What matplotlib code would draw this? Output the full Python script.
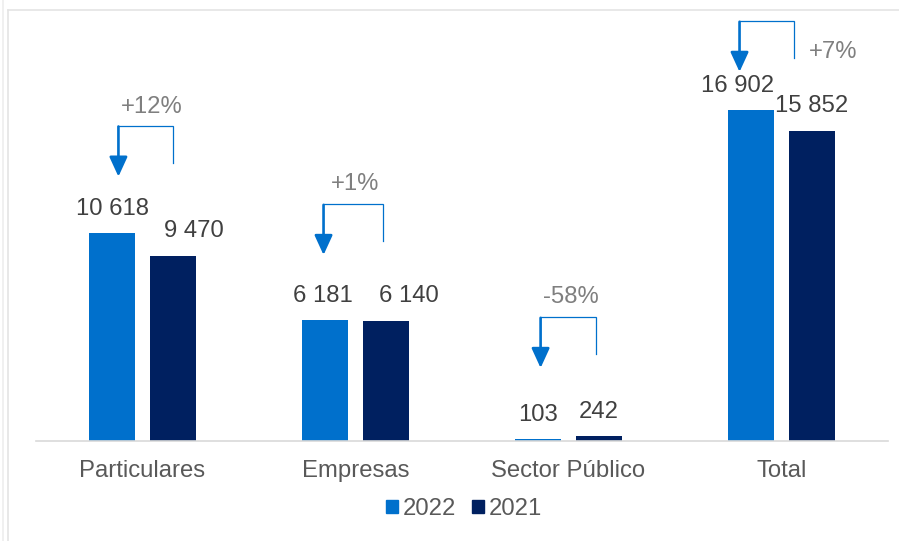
import numpy as np
import matplotlib
matplotlib.use('Agg')
import matplotlib.pyplot as plt
from matplotlib.lines import Line2D
from matplotlib.patches import Patch

plt.rcParams['font.family'] = ['Liberation Sans', 'DejaVu Sans']

# data
categories = ['Particulares', 'Empresas', 'Sector Público', 'Total']
v2022 = [10618, 6181, 103, 16902]
v2021 = [9470, 6140, 242, 15852]
pct_labels = ['+12%', '+1%', '-58%', '+7%']
series_names = ['2022', '2021']

# horizontal nudges of the value labels (points), as placed in the original
lab_dx_2022 = [0, -1.5, 0, -10]
lab_dx_2021 = [15, 16.5, 0, 0]

# bracket annotations (data units): top level of bracket, arrow / leg x offsets
bracket_top = [16100, 12100, 6330, 21450]
arrow_dx = [-0.113, -0.150, -0.131, -0.197]
leg_dx = [0.141, 0.127, 0.127, 0.061]
pct_x = [0.042, 0.0, 0.009, 0.244]
pct_y = [17050, 13120, 7350, 19860]

c2022 = '#0070CC'
c2021 = '#002060'
blue_line = '#0070CC'
fs = 17.2

fig = plt.figure(figsize=(8.99, 5.41), dpi=100)
ax = fig.add_axes([36 / 899, 100 / 541, 852 / 899, 430.8 / 541])

x = np.arange(len(categories))
w = 0.22
off = 0.143
ax.bar(x - off, v2022, w, color=c2022, label='2022')
ax.bar(x + off, v2021, w, color=c2021, label='2021')

for i in range(len(categories)):
    ax.annotate(f'{v2022[i]:,}'.replace(',', ' '), (x[i] - off, v2022[i]),
                xytext=(lab_dx_2022[i], 17.5), textcoords='offset points',
                ha='center', va='center', fontsize=fs, color='#404040')
    ax.annotate(f'{v2021[i]:,}'.replace(',', ' '), (x[i] + off, v2021[i]),
                xytext=(lab_dx_2021[i], 17.5), textcoords='offset points',
                ha='center', va='center', fontsize=fs, color='#404040')

    # bracket with downward arrow
    ax_x = x[i] + arrow_dx[i]
    lg_x = x[i] + leg_dx[i]
    top = bracket_top[i]
    ax.plot([ax_x, lg_x, lg_x], [top, top, top - 1890], color=blue_line, lw=0.9,
            solid_joinstyle='miter')
    ax.annotate('', xy=(ax_x, top - 2600), xytext=(ax_x, top - 40),
                arrowprops=dict(arrowstyle='-|>,head_width=0.55,head_length=1.2',
                                color=blue_line, lw=1.9, shrinkA=0, shrinkB=0,
                                mutation_scale=10))
    ax.text(x[i] + pct_x[i], pct_y[i], pct_labels[i], ha='center', va='center',
            fontsize=fs, color='#7F7F7F')

ax.set_xlim(-0.5, 3.5)
ax.set_ylim(0, 22000)
ax.set_xticks(x)
ax.set_xticklabels(categories, fontsize=fs, color='#595959')
ax.tick_params(axis='x', length=0, pad=14)
ax.set_yticks([])
for s in ['top', 'right', 'left']:
    ax.spines[s].set_visible(False)
ax.spines['bottom'].set_color('#D9D9D9')
ax.spines['bottom'].set_linewidth(1.2)

handles = [Patch(color=c2022), Patch(color=c2021)]
fig.legend(handles, series_names, loc='center', bbox_to_anchor=(464 / 899, 1 - 509 / 541),
           ncol=2, frameon=False, fontsize=fs, handlelength=0.5, handleheight=0.5,
           handletextpad=0.2, columnspacing=0.7, labelcolor='#595959')

# light chart frame
fig.add_artist(Line2D([7.5 / 899, 7.5 / 899], [0, 1 - 10 / 541], color='#E4E4E4', lw=1.2))
fig.add_artist(Line2D([7.5 / 899, 1], [1 - 10 / 541, 1 - 10 / 541], color='#E4E4E4', lw=1.2))
fig.add_artist(Line2D([2.5 / 899, 2.5 / 899], [0, 1], color='#EEEEEE', lw=1.2))

fig.savefig('out.png', dpi=100)
